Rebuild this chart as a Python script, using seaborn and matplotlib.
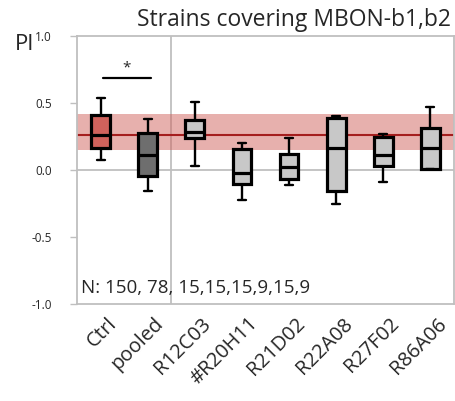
import numpy as np
import pandas as pd
import matplotlib
matplotlib.use("Agg")
import matplotlib.pyplot as plt
import matplotlib.transforms as mtransforms
import seaborn as sns

categories = ["Ctrl", "pooled", "R12C03", "#R20H11", "R21D02", "R22A08", "R27F02", "R86A06"]
whisker_low = [0.074, -0.156, 0.032, -0.222, -0.116, -0.254, -0.094, 0.005]
q1 = [0.165, -0.044, 0.235, -0.104, -0.069, -0.156, 0.030, 0.007]
median = [0.26, 0.113, 0.28, -0.02, 0.02, 0.16, 0.111, 0.16]
q3 = [0.41, 0.275, 0.37, 0.153, 0.116, 0.383, 0.242, 0.313]
whisker_high = [0.536, 0.38, 0.506, 0.20, 0.235, 0.40, 0.27, 0.47]
colors = ["#D0625C", "#6E6E6E", "#C8C8C8", "#C8C8C8", "#C8C8C8", "#C8C8C8", "#C8C8C8", "#C8C8C8"]
n_text = "N: 150, 78, 15,15,15,9,15,9"
title = "Strains covering MBON-b1,b2"

rows = []
for i, c in enumerate(categories):
    for v in (whisker_low[i], q1[i], median[i], q3[i], whisker_high[i]):
        rows.append({"strain": c, "PI": v})
df = pd.DataFrame(rows)

sns.set_style("white")
plt.rcParams["font.family"] = ["Open Sans", "DejaVu Sans"]

fig = plt.figure(figsize=(4.56, 4.01), dpi=100)
ax = fig.add_axes([77 / 456, 1 - 304 / 401, (454 - 77) / 456, (304 - 35.7) / 401])

# reference band (Ctrl IQR) and median line
ax.axhspan(q1[0] - 0.017, q3[0] + 0.01, color="#D0625C", alpha=0.5, lw=0, zorder=0.5)
ax.axhline(median[0], color="#A51E1E", lw=1.5, zorder=0.6)
ax.axhline(0, color="#BFBFBF", lw=1.3, zorder=0.4)
ax.axvline(1.5, color="#BFBFBF", lw=1.3, zorder=0.4)

sns.boxplot(data=df, x="strain", y="PI", hue="strain", order=categories,
            palette=dict(zip(categories, colors)), saturation=1, width=0.4,
            whis=(0, 100), showfliers=False, linecolor="black", linewidth=2.3,
            whiskerprops={"linewidth": 1.7}, capprops={"linewidth": 1.7},
            capwidths=0.17, legend=False, ax=ax, zorder=2)

ax.set_xlim(-0.5, 7.5)
ax.set_ylim(-1.0, 1.0)
ax.set_yticks([-1.0, -0.5, 0.0, 0.5, 1.0])
ax.set_yticklabels(["-1.0", "-0.5", "0.0", "0.5", "1.0"], fontsize=8.5)
ax.tick_params(axis="y", length=5, width=1, color="#BFBFBF", pad=13, left=True)
ax.set_xticks(range(len(categories)))
ax.set_xticklabels(categories, rotation=45, ha="right", rotation_mode="anchor", fontsize=14.5)
ax.tick_params(axis="x", length=0, pad=7)
offset = mtransforms.ScaledTranslation(6 / 100, 0, fig.dpi_scale_trans)
for lbl in ax.get_xticklabels():
    lbl.set_transform(lbl.get_transform() + offset)
ax.set_xlabel("")
ax.set_ylabel("")
for s in ax.spines.values():
    s.set_color("#BFBFBF")
    s.set_linewidth(1.3)

# significance bar
ax.plot([0.05, 1.07], [0.684, 0.684], color="black", lw=1.6)
ax.text(0.56, 0.70, "*", ha="center", va="bottom", fontsize=11)

ax.text(-0.42, -0.88, n_text, ha="left", va="center", fontsize=13.5)
fig.text(0.988, 0.95, title, ha="right", va="center", fontsize=16.5)
fig.text(0.033, 0.888, "PI", ha="left", va="center", fontsize=16)

fig.savefig("out.png", dpi=100)
